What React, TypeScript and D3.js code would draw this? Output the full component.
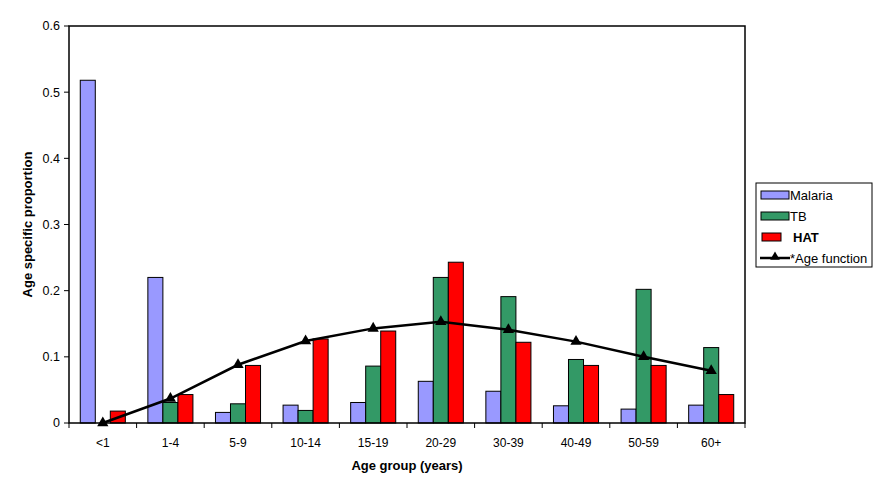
import React from "react";
import * as d3 from "d3";

const categories = ["<1", "1-4", "5-9", "10-14", "15-19", "20-29", "30-39", "40-49", "50-59", "60+"];
const malaria = [0.518, 0.22, 0.016, 0.027, 0.031, 0.063, 0.048, 0.026, 0.021, 0.027];
const tb = [0, 0.031, 0.029, 0.019, 0.086, 0.22, 0.191, 0.096, 0.202, 0.114];
const hat = [0.018, 0.043, 0.087, 0.127, 0.139, 0.243, 0.122, 0.087, 0.087, 0.043];
const ageFunction = [0.0, 0.037, 0.088, 0.124, 0.143, 0.153, 0.141, 0.123, 0.1, 0.079];
const yTicks = [0, 0.1, 0.2, 0.3, 0.4, 0.5, 0.6];

const seriesNames = ["Malaria", "TB", "HAT"];
const seriesColors = ["#9999FF", "#339966", "#FF0000"];

const W = 882;
const H = 491;
const left = 69;
const right = 745;
const top = 26;
const bottom = 423;

export default function App() {
  const x = d3.scaleBand<string>().domain(categories).range([left, right]).paddingInner(0).paddingOuter(0);
  const y = d3.scaleLinear().domain([0, 0.6]).range([bottom, top]);
  const bw = x.bandwidth() / 4.5;
  const off = bw * 0.75;
  const series = [malaria, tb, hat];
  const font = "'Liberation Sans', Arial, sans-serif";
  const line = d3
    .line<number>()
    .x((_, i) => (x(categories[i]) as number) + x.bandwidth() / 2)
    .y((d) => y(d));
  const tri = d3.symbol().type(d3.symbolTriangle).size(55)();

  return (
    <svg width={W} height={H} style={{ position: "absolute", left: 0, top: 0, background: "#fff" }} fontFamily={font}>
      <rect x={0} y={0} width={W} height={H} fill="#fff" />
      {/* bars */}
      {series.map((vals, s) =>
        vals.map((v, i) =>
          v > 0 ? (
            <rect
              key={`b${s}-${i}`}
              x={(x(categories[i]) as number) + off + s * bw}
              y={y(v)}
              width={bw}
              height={bottom - y(v)}
              fill={seriesColors[s]}
              stroke="#000"
              strokeWidth={1}
            />
          ) : null
        )
      )}
      {/* plot frame */}
      <rect x={left} y={top} width={right - left} height={bottom - top} fill="none" stroke="#000" strokeWidth={1.5} />
      {/* y ticks */}
      {yTicks.map((t) => (
        <g key={`yt${t}`}>
          <line x1={left - 5} x2={left} y1={y(t)} y2={y(t)} stroke="#000" />
          <text x={left - 9} y={y(t)} dy="0.35em" textAnchor="end" fontSize={12.5} fill="#000">
            {t === 0 ? "0" : String(t)}
          </text>
        </g>
      ))}
      {/* x ticks */}
      {categories.map((c, i) => (
        <g key={`xt${c}`}>
          <line x1={x(c) as number} x2={x(c) as number} y1={bottom} y2={bottom + 5} stroke="#000" />
          {i === categories.length - 1 ? (
            <line x1={right} x2={right} y1={bottom} y2={bottom + 5} stroke="#000" />
          ) : null}
          <text x={(x(c) as number) + x.bandwidth() / 2} y={446.5} textAnchor="middle" fontSize={12} fill="#000">
            {c}
          </text>
        </g>
      ))}
      {/* line */}
      <path d={line(ageFunction) || ""} fill="none" stroke="#000" strokeWidth={2.5} />
      {ageFunction.map((v, i) => (
        <path
          key={`m${i}`}
          d={tri || ""}
          transform={`translate(${(x(categories[i]) as number) + x.bandwidth() / 2},${y(v)})`}
          fill="#000"
        />
      ))}
      {/* axis titles */}
      <text x={407} y={470} textAnchor="middle" fontSize={13} fontWeight="bold" fill="#000">
        Age group (years)
      </text>
      <text
        transform={`translate(32,${(top + bottom) / 2}) rotate(-90)`}
        textAnchor="middle"
        fontSize={13}
        fontWeight="bold"
        fill="#000"
      >
        Age specific proportion
      </text>
      {/* legend */}
      <rect x={756} y={183} width={116} height={84} fill="#fff" stroke="#000" strokeWidth={1} />
      {seriesNames.map((n, s) => {
        const cy = 195 + s * 21;
        const isHat = s === 2;
        return (
          <g key={`lg${n}`}>
            <rect
              x={isHat ? 762 : 761}
              y={cy - 4}
              width={isHat ? 19 : 28}
              height={8}
              fill={seriesColors[s]}
              stroke="#000"
            />
            <text
              x={isHat ? 793 : 790}
              y={cy}
              dy="0.35em"
              fontSize={13}
              fontWeight={isHat ? "bold" : "normal"}
              fill="#000"
            >
              {n}
            </text>
          </g>
        );
      })}
      <line x1={760} x2={790} y1={258} y2={258} stroke="#000" strokeWidth={2.5} />
      <path d={d3.symbol().type(d3.symbolTriangle).size(40)() || ""} transform="translate(775,257)" fill="#000" />
      <text x={790} y={258} dy="0.35em" fontSize={13} fill="#000">
        *Age function
      </text>
    </svg>
  );
}
